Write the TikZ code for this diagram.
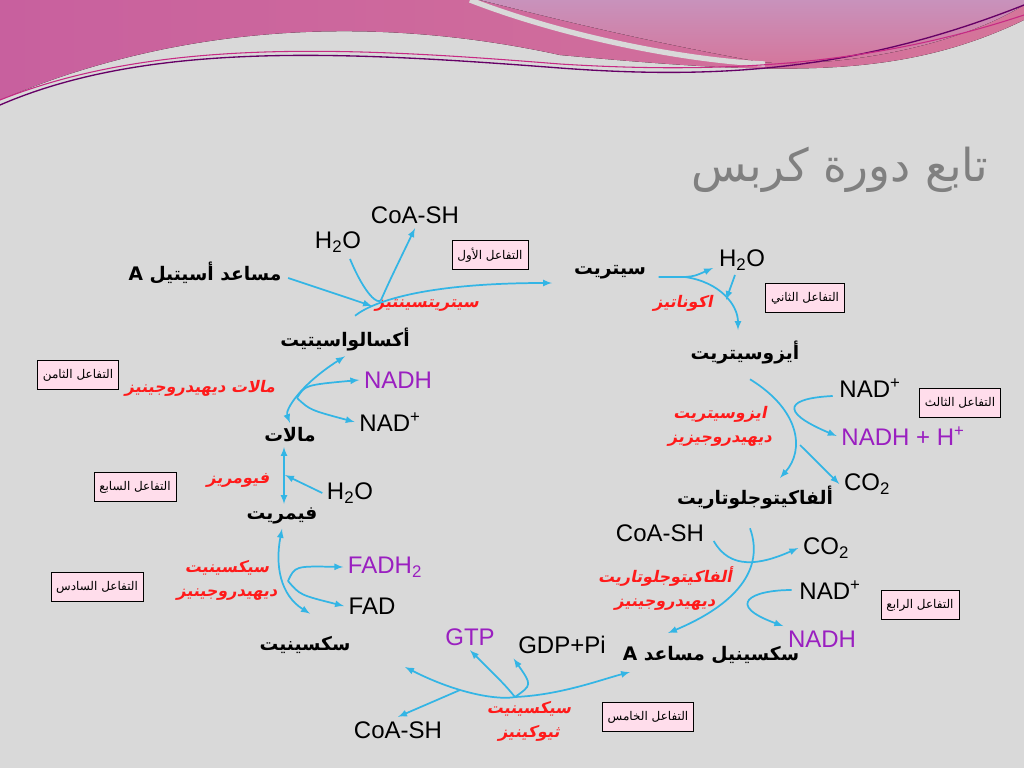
\documentclass[tikz,border=0pt]{standalone}
\usepackage{fontspec}
\setmainfont{Liberation Sans}
\newfontfamily\arabicfont[Script=Arabic]{DejaVu Sans}
\newfontfamily\enzfont[Script=Arabic,FakeSlant=0.2]{DejaVu Sans Bold}
\TeXXeTstate=1
\usetikzlibrary{arrows,calc}
\usepackage{xcolor}
\definecolor{bg}{HTML}{D9D9D9}
\definecolor{flow}{HTML}{33B5E5}
\definecolor{enz}{HTML}{FF1A1A}
\definecolor{nadh}{HTML}{9A1FC0}
\definecolor{boxpink}{HTML}{FFDDEB}
\definecolor{bandA}{HTML}{C8609E}
\definecolor{bandB}{HTML}{D5759A}
\definecolor{bandC}{HTML}{C892BC}
\newcommand{\ar}[1]{{\beginR #1\endR}}

\begin{document}
\begin{tikzpicture}[x=0.75pt,y=-0.75pt,
  mol/.style={font=\arabicfont\bfseries\fontsize{14}{16}\selectfont},
  chem/.style={font=\fontsize{18}{21}\selectfont},
  enzyme/.style={font=\enzfont\fontsize{12}{18}\selectfont, text=enz, align=center},
  stepbox/.style={draw, fill=boxpink, font=\arabicfont\fontsize{9}{11}\selectfont, inner sep=4pt, minimum height=22pt},
  flowline/.style={draw=flow, line width=1.3pt, -latex},
  flowboth/.style={draw=flow, line width=1.3pt, latex-latex}]

\useasboundingbox (0,0) rectangle (1024,768);
\fill[bg] (0,0) rectangle (1024,768);

% band at the top
\fill[left color=bandA, right color=bandB] (0,0) -- (1024,0) -- (1024,20)
   .. controls (900,80) and (780,75) .. (560,55) .. controls (400,20) and (200,15) .. (0,100) -- cycle;
\fill[top color=bandC, bottom color=bandB] (480,0) -- (1024,0) -- (1024,5)
   .. controls (950,50) and (830,68) .. (760,62) .. controls (640,40) and (560,20) .. (480,0) -- cycle;
\draw[bg, line width=4pt] (470,0) .. controls (560,35) and (680,60) .. (765,64);
\draw[violet!80!black, line width=1pt] (0,105) .. controls (150,40) and (350,52) .. (560,68) .. controls (720,80) and (860,70) .. (1024,5);
\draw[magenta!80!black, line width=0.8pt] (0,100) .. controls (160,36) and (360,48) .. (560,64) .. controls (720,74) and (870,66) .. (1024,15);

\node[font=\arabicfont\fontsize{34}{40}\selectfont, text=gray] (title) at (840,170) {\ar{تابع دورة كربس}};

% molecules
\node[mol] (acetyl) at (205,273) {\ar{مساعد أسيتيل A}};
\node[mol] (citrate) at (610,272) {\ar{سيتريت}};
\node[mol] (oxalo) at (345,340) {\ar{أكسالواسيتيت}};
\node[mol] (isocit) at (745,353) {\ar{أيزوسيتريت}};
\node[mol] (malate) at (290,435) {\ar{مالات}};
\node[mol] (fumarate) at (282,516) {\ar{فيمريت}};
\node[mol] (akg) at (755,497) {\ar{ألفاكيتوجلوتاريت}};
\node[mol] (succ) at (305,645) {\ar{سكسينيت}};
\node[mol] (succoa) at (711,655) {\ar{سكسينيل مساعد A}};

% cofactors
\node[chem] (coa1) at (415,215) {CoA-SH};
\node[chem] (water1) at (338,242) {H\textsubscript{2}O};
\node[chem] (water2) at (742,260) {H\textsubscript{2}O};
\node[chem] (nad3) at (870,388) {NAD\textsuperscript{+}};
\node[chem, text=nadh] (nadh3) at (903,436) {NADH + H\textsuperscript{+}};
\node[chem] (co2a) at (867,484) {CO\textsubscript{2}};
\node[chem] (coa4) at (660,533) {CoA-SH};
\node[chem] (co2b) at (826,548) {CO\textsubscript{2}};
\node[chem] (nad4) at (830,590) {NAD\textsuperscript{+}};
\node[chem, text=nadh] (nadh4) at (822,639) {NADH};
\node[chem, text=nadh] (gtp) at (470,637) {GTP};
\node[chem] (gdp) at (562,645) {GDP+Pi};
\node[chem] (coa5) at (398,730) {CoA-SH};
\node[chem, text=nadh] (fadh) at (385,567) {FADH\textsubscript{2}};
\node[chem] (fad) at (372,606) {FAD};
\node[chem] (water7) at (350,493) {H\textsubscript{2}O};
\node[chem, text=nadh] (nadh8) at (398,380) {NADH};
\node[chem] (nad8) at (390,422) {NAD\textsuperscript{+}};

% enzymes
\node[enzyme] (e1) at (427,305) {\ar{سيتريتسينثيز}};
\node[enzyme] (e2) at (683,303) {\ar{اكوناتيز}};
\node[enzyme] (e3) at (720,426) {\ar{ايزوسيتريت}\\\ar{ديهيدروجيزيز}};
\node[enzyme] (e4) at (665,589) {\ar{ألفاكيتوجلوتاريت}\\\ar{ديهيدروجينيز}};
\node[enzyme] (e5) at (529,721) {\ar{سيكسينيت}\\\ar{ثيوكينيز}};
\node[enzyme] (e6) at (227,580) {\ar{سيكسينيت}\\\ar{ديهيدروجينيز}};
\node[enzyme] (e7) at (238,480) {\ar{فيومريز}};
\node[enzyme] (e8) at (200,388) {\ar{مالات ديهيدروجينيز}};

% steps
\node[stepbox] (s1) at (490,255) {\ar{التفاعل الأول}};
\node[stepbox] (s2) at (805,298) {\ar{التفاعل الثاني}};
\node[stepbox] (s3) at (960,403) {\ar{التفاعل الثالث}};
\node[stepbox] (s4) at (920,605) {\ar{التفاعل الرابع}};
\node[stepbox] (s5) at (648,717) {\ar{التفاعل الخامس}};
\node[stepbox] (s6) at (97,587) {\ar{التفاعل السادس}};
\node[stepbox] (s7) at (135,487) {\ar{التفاعل السابع}};
\node[stepbox] (s8) at (78,375) {\ar{التفاعل الثامن}};

% reaction 1
\coordinate (j1) at (381,300);
\draw[flowline] (acetyl.east) ++(2,5) -- (372,306);
\draw[flowline] (oxalo.north) ++(10,-8) .. controls (375,300) and (430,283) .. (552,283);
\draw[flowline] (water1.south) ++(12,2) .. controls (365,295) and (378,305) .. (j1) .. controls (390,280) .. (coa1.south);

% reaction 2
\coordinate (j2) at (685,277);
\draw[flowline] (citrate.east) ++(8,5) -- (j2) .. controls (695,276) .. (713,268);
\draw[flowline] (j2) .. controls (720,282) and (738,305) .. (738,330);
\draw[flowline] (water2.south) ++(-7,0) -- (726,300);

% reaction 3
\draw[flowline] (isocit.south) ++(5,10) .. controls (800,410) and (805,450) .. (780,478);
\draw[flowline] (nad3.west) ++(-2,8) .. controls (790,398) and (775,410) .. (nadh3.west);
\draw[flowline] (800,445) -- (co2a.west);

% reaction 4
\draw[flowline] (akg.south) ++(-5,15) .. controls (765,570) and (735,605) .. (668,633);
\draw[flowline] (coa4.east) ++(5,8) .. controls (730,570) and (760,565) .. (co2b.west);
\draw[flowline] (nad4.west) ++(-3,0) .. controls (750,590) and (725,605) .. (nadh4.north west);

% reaction 5
\coordinate (j5) at (515,697);
\draw[flowboth] (405,667) .. controls (460,695) and (500,700) .. (j5) .. controls (560,695) and (600,680) .. (630,672);
\draw[flowline] (j5) .. controls (505,685) .. (gtp.south);
\draw[flowline] (j5) .. controls (532,685) .. (gdp.south west);
\draw[flowline] (460,690) -- (coa5.north);

% reaction 6
\coordinate (j6) at (288,581);
\draw[flowboth] (succ.north) ++(5,-18) .. controls (280,595) and (275,565) .. (fumarate.south);
\draw[flowline] (j6) .. controls (295,566) .. (fadh.west);
\draw[flowline] (j6) .. controls (300,595) .. (fad.west);

% reaction 7
\draw[flowboth] (malate.south) ++(-6,0) -- (284,504);
\draw[flowline] (water7.west) -- (285,475);

% reaction 8
\coordinate (j8) at (297,398);
\draw[flowboth] (malate.north) .. controls (285,410) and (300,385) .. (oxalo.south);
\draw[flowline] (j8) .. controls (305,385) .. (nadh8.west);
\draw[flowline] (j8) .. controls (310,410) .. (nad8.west);

\end{tikzpicture}
\end{document}
